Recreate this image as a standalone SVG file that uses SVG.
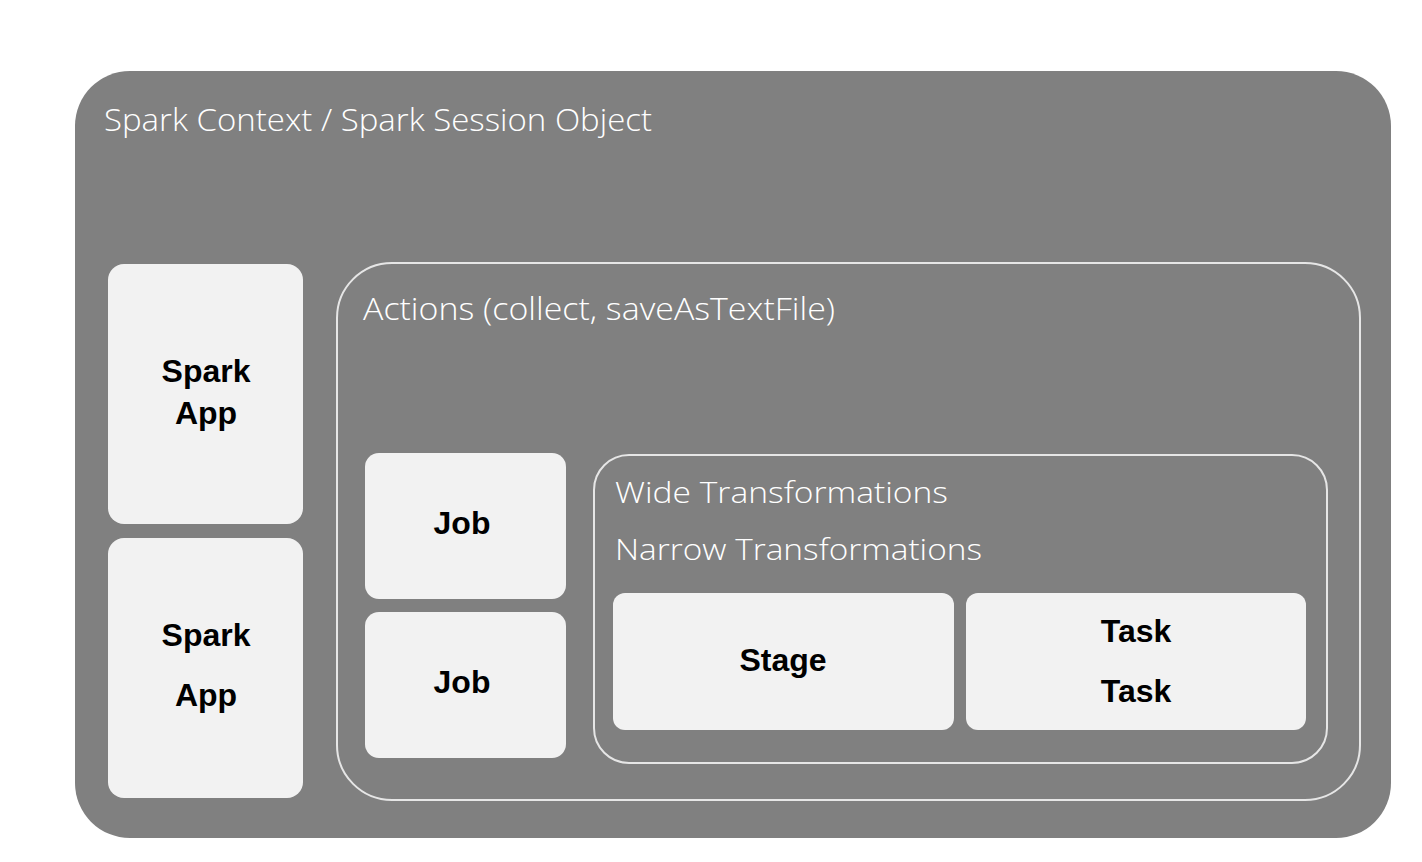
<svg xmlns="http://www.w3.org/2000/svg" width="1422" height="862" viewBox="0 0 1422 862">
<style>
.box{fill:#f2f2f2;}
.frame{fill:none;stroke:#e6e6e6;stroke-width:2;}
.hdr{font-family:"Open Sans","Liberation Sans",sans-serif;font-weight:300;fill:#ffffff;}
.lbl{font-family:"Liberation Sans","Open Sans",sans-serif;font-weight:bold;font-size:32px;fill:#000000;text-anchor:middle;}
</style>
<rect width="1422" height="862" fill="#ffffff"/>
<g id="spark-context">
<rect x="75" y="71" width="1316" height="767" rx="55" ry="55" fill="#808080"/>
<text class="hdr" x="104" y="131" font-size="31" textLength="548" lengthAdjust="spacingAndGlyphs">Spark Context / Spark Session Object</text>
</g>
<g id="spark-app-1">
<rect class="box" x="108" y="264" width="195" height="260" rx="16"/>
<text class="lbl" x="206" y="382">Spark</text>
<text class="lbl" x="206" y="424">App</text>
</g>
<g id="spark-app-2">
<rect class="box" x="108" y="538" width="195" height="260" rx="16"/>
<text class="lbl" x="206" y="646">Spark</text>
<text class="lbl" x="206" y="706">App</text>
</g>
<g id="actions">
<rect class="frame" x="337" y="263" width="1023" height="537" rx="55"/>
<text class="hdr" x="363" y="320" font-size="31" textLength="472" lengthAdjust="spacingAndGlyphs">Actions (collect, saveAsTextFile)</text>
</g>
<g id="job-1">
<rect class="box" x="365" y="453" width="201" height="146" rx="14"/>
<text class="lbl" x="462" y="534">Job</text>
</g>
<g id="job-2">
<rect class="box" x="365" y="612" width="201" height="146" rx="14"/>
<text class="lbl" x="462" y="693">Job</text>
</g>
<g id="transformations">
<rect class="frame" x="594" y="455" width="733" height="308" rx="35"/>
<text class="hdr" x="615" y="503" font-size="29" textLength="333" lengthAdjust="spacingAndGlyphs">Wide Transformations</text>
<text class="hdr" x="615" y="560" font-size="29" textLength="367" lengthAdjust="spacingAndGlyphs">Narrow Transformations</text>
</g>
<g id="stage">
<rect class="box" x="613" y="593" width="341" height="137" rx="12"/>
<text class="lbl" x="783" y="671">Stage</text>
</g>
<g id="task">
<rect class="box" x="966" y="593" width="340" height="137" rx="12"/>
<text class="lbl" x="1136" y="642">Task</text>
<text class="lbl" x="1136" y="702">Task</text>
</g>
<g id="connectors"></g>
</svg>
